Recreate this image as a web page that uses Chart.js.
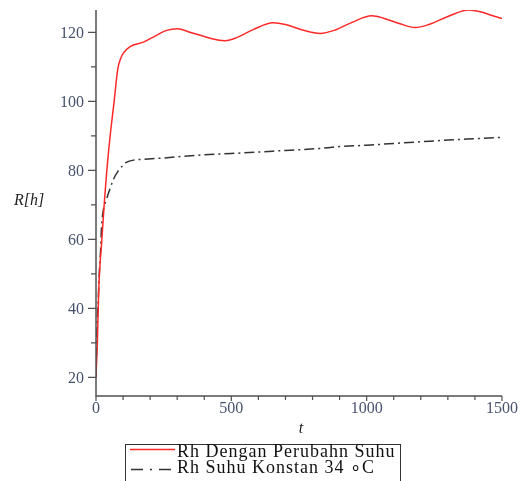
<!DOCTYPE html>
<html>
<head>
<meta charset="utf-8">
<script src="https://cdn.jsdelivr.net/npm/chart.js@4.4.0/dist/chart.umd.min.js"></script>
<style>
    body { margin: 0; background: #fff; }
    canvas { display: block; }
</style>
</head>
<body>
<canvas id="rhChart" width="526" height="481"></canvas>
<script>
// Rh dengan perubahan suhu (t, R)
const tPerubahan = [0, 2, 5, 10, 15, 20, 25, 32, 40, 47, 55, 67, 75, 82, 92, 101, 126, 175, 220, 261, 300,
    350, 400, 450, 477, 520, 580, 654, 700, 760, 828, 880, 940, 1019, 1060, 1120, 1179, 1230, 1300,
    1376, 1420, 1460, 1500];
const rPerubahan = [20, 24, 30, 45, 53, 58, 64, 72, 80, 86, 92, 100, 106, 110, 112.6, 114, 115.9, 117.2, 119, 120.6, 121.1,
    120, 118.8, 117.8, 117.6, 118.5, 120.8, 122.8, 122.3, 120.8, 119.7, 120.6, 122.7, 124.8, 124.2, 122.6, 121.4, 122.3, 124.6,
    126.5, 126, 125, 124];

// Rh suhu konstan 34 C
const tKonstan = [0, 2, 4, 8, 12, 17, 20, 26, 38, 50, 65, 81, 100, 112, 140, 175, 250, 310, 400, 500,
    600, 700, 816, 900, 1000, 1100, 1200, 1300, 1400, 1500];
const rKonstan = [20, 28, 35, 42, 50, 57, 63, 68, 71.4, 74.3, 77.5, 79.7, 81.5, 82.3, 83, 83.2, 83.6, 84, 84.5, 84.9,
    85.3, 85.8, 86.3, 86.9, 87.3, 87.8, 88.3, 88.8, 89.2, 89.6];

const xMajor = [0, 500, 1000, 1500];
const xMinor = [100, 200, 300, 400, 600, 700, 800, 900, 1100, 1200, 1300, 1400];
const yMajor = [20, 40, 60, 80, 100, 120];
const yMinor = [30, 50, 70, 90, 110];
const legendLabels = ['Rh Dengan Perubahn Suhu', 'Rh Suhu Konstan 34 \u2218C'];

const DASH = [10, 4, 2, 4];

function toPoints(ts, rs) {
    return ts.map((t, i) => ({ x: t, y: rs[i] }));
}

const mapleAxes = {
    id: 'mapleAxes',
    afterDraw(chart) {
        const ctx = chart.ctx;
        const xs = chart.scales.x;
        const ys = chart.scales.y;
        const area = chart.chartArea;
        const x0 = xs.getPixelForValue(0);
        const yb = area.bottom;

        ctx.save();
        ctx.strokeStyle = '#505050';
        ctx.lineWidth = 1.5;
        ctx.beginPath();
        ctx.moveTo(x0, area.top);
        ctx.lineTo(x0, yb);
        ctx.lineTo(area.right, yb);
        ctx.stroke();

        ctx.lineWidth = 1.2;
        ctx.beginPath();
        yMajor.forEach(v => { const p = ys.getPixelForValue(v); ctx.moveTo(x0 - 8, p); ctx.lineTo(x0, p); });
        yMinor.forEach(v => { const p = ys.getPixelForValue(v); ctx.moveTo(x0 - 5, p); ctx.lineTo(x0, p); });
        xMajor.forEach(v => { const p = xs.getPixelForValue(v); ctx.moveTo(p, yb); ctx.lineTo(p, yb + 5); });
        xMinor.forEach(v => { const p = xs.getPixelForValue(v); ctx.moveTo(p, yb); ctx.lineTo(p, yb + 4); });
        ctx.stroke();

        ctx.fillStyle = '#47526b';
        ctx.font = '16px "Liberation Serif"';
        ctx.textAlign = 'right';
        ctx.textBaseline = 'middle';
        yMajor.forEach(v => ctx.fillText(String(v), x0 - 12, ys.getPixelForValue(v) + 1));
        ctx.textAlign = 'center';
        ctx.textBaseline = 'top';
        xMajor.forEach(v => ctx.fillText(String(v), xs.getPixelForValue(v), yb + 5));

        // judul sumbu
        ctx.fillStyle = '#222';
        ctx.font = 'italic 16px "Liberation Serif"';
        ctx.textBaseline = 'middle';
        ctx.fillText('t', 301, 429);
        ctx.fillText('R[h]', 29, 201);

        // legenda
        ctx.strokeStyle = '#333';
        ctx.lineWidth = 1;
        ctx.strokeRect(125.5, 444.5, 275, 60);
        ctx.lineWidth = 1.5;
        ctx.strokeStyle = 'rgb(255,40,40)';
        ctx.beginPath();
        ctx.moveTo(130, 449.5);
        ctx.lineTo(175, 449.5);
        ctx.stroke();
        ctx.strokeStyle = '#333';
        ctx.setLineDash([12, 7, 2, 7]);
        ctx.beginPath();
        ctx.moveTo(131, 469.5);
        ctx.lineTo(176, 469.5);
        ctx.stroke();
        ctx.setLineDash([]);

        ctx.fillStyle = '#111';
        ctx.font = '18px "Liberation Serif"';
        ctx.letterSpacing = '1px';
        ctx.textAlign = 'left';
        ctx.textBaseline = 'alphabetic';
        ctx.fillText(legendLabels[0], 177, 457);
        ctx.fillText(legendLabels[1], 177, 473);
        ctx.restore();
    }
};

document.addEventListener('DOMContentLoaded', function() {
    const ctx = document.getElementById('rhChart').getContext('2d');

    new Chart(ctx, {
        type: 'line',
        data: {
            datasets: [{
                label: legendLabels[0],
                data: toPoints(tPerubahan, rPerubahan),
                borderColor: 'rgb(255,40,40)',
                borderWidth: 1.5,
                pointRadius: 0,
                cubicInterpolationMode: 'monotone',
                fill: false
            }, {
                label: legendLabels[1],
                data: toPoints(tKonstan, rKonstan),
                borderColor: '#333',
                borderWidth: 1.5,
                borderDash: DASH,
                pointRadius: 0,
                cubicInterpolationMode: 'monotone',
                fill: false
            }]
        },
        options: {
            responsive: false,
            animation: false,
            layout: {
                padding: { left: 96, right: 24, top: 10, bottom: 85 }
            },
            plugins: {
                legend: { display: false },
                tooltip: { enabled: false }
            },
            scales: {
                x: { type: 'linear', min: 0, max: 1500, display: false },
                y: { type: 'linear', min: 14.6, max: 126.5, display: false }
            }
        },
        plugins: [mapleAxes]
    });
});
</script>
</body>
</html>
